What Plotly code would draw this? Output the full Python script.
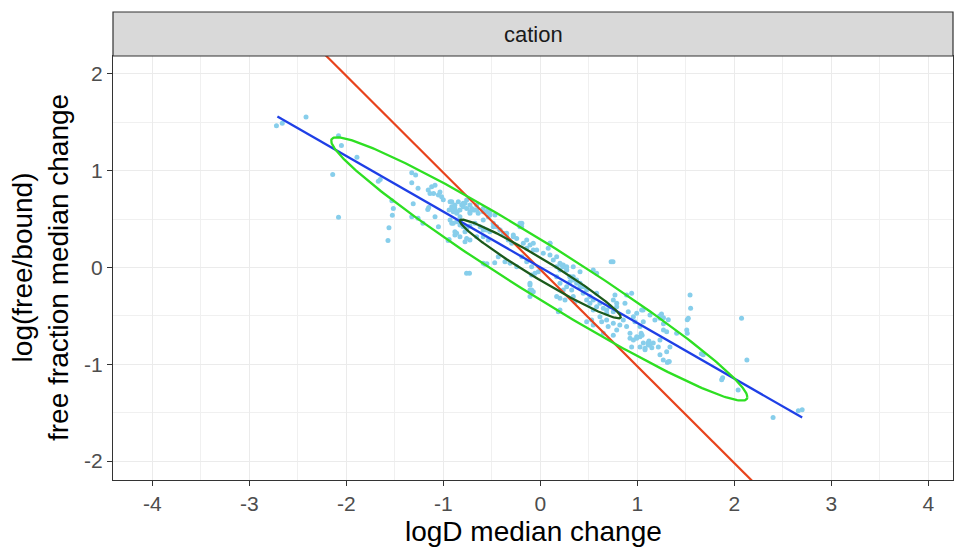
import numpy as np
import plotly.graph_objects as go

# ---------------- data ----------------
facet_label = "cation"
x_title = "logD median change"
y_title = "log(free/bound)<br>free fraction median change"
x_ticks = [-4, -3, -2, -1, 0, 1, 2, 3, 4]
y_ticks = [-2, -1, 0, 1, 2]

pts_x = [
    -2.72, -2.66, -2.415, -2.08, -2.05, -1.89, -2.14, -2.08, -1.67, -1.65,
    -1.53, -1.515, -1.525, -1.56, -1.57, -1.325, -1.285, -1.325, -1.26, -1.31,
    -1.16, -1.15, -1.085, -1.26, -1.325, -1.21, -1.05, -0.88, -0.95, -0.94,
    -0.76, -0.73, -0.57, -0.55, -0.47,
    -1.155, -1.12, -1.10, -1.137, -1.085, -1.034, -1.017, -1.0, -1.05, -0.93,
    -0.913, -0.94, -0.897, -0.88, -0.856, -0.828, -0.81, -0.776, -0.759, -0.725,
    -0.707, -0.673, -0.64, -0.588, -0.553, -0.536, -0.52, -0.467, -0.93, -0.913,
    -0.862, -0.828, -0.794, -0.759, -0.725, -0.673, -0.62, -0.588, -0.553, -0.52,
    -0.88, -0.828, -0.776, -0.725, -0.656, -0.588, -0.536,
    -0.588, -0.485, -0.45, -0.415, -0.38, -0.346, -0.33, -0.295, -0.278, -0.243,
    -0.21, -0.19, -0.175, -0.14, -0.106, -0.072, -0.433, -0.364, -0.312, -0.243,
    -0.19, -0.14, -0.089, -0.089, -0.055, -0.02, -0.106, -0.106, -0.106, -0.072,
    0.10, 0.082, 0.10, 0.134, 0.169, 0.203, 0.237, 0.272, 0.306, 0.169,
    0.203, 0.272, 0.324, 0.169, 0.203, 0.255, 0.34, 0.358,
    -0.913, -0.88, -0.845, -0.794, -0.759, -0.725, -0.69, -0.656, -0.588, -0.536,
    -0.52, -0.862, -0.776, -0.759, -0.897, -0.862, -0.828, -0.897,
    0.22, 0.272, 0.34, 0.41, 0.34, 0.375, 0.41, 0.443, 0.306, 0.237,
    0.546, 0.581, 0.478, 0.512, 0.546, 0.581, 0.615, 0.65, 0.684, 0.718,
    0.753, 0.77, 0.788, 0.89, 0.942, 0.873, 0.907, 0.96, 0.994, 0.976,
    1.028, 1.062, 1.045, 0.478, 0.53, 0.546, 0.633, 0.684, 0.70, 0.753,
    0.788, 0.82, 0.65, 0.753, 0.925, 0.96, 0.994, 1.028, 1.028, 1.062,
    1.08, 1.113, 1.165, 1.217, 1.234, 0.942, 1.08, 1.234, 1.268, 1.32,
    1.303, 1.131, 1.182, 1.234, 1.303, 1.406, 1.51, 1.526, 0.73, 0.75,
    1.544, 1.55, 1.515, 1.515, 1.32, 1.27, 1.27, 1.337, 1.31, 1.33,
    1.13, 1.11, 1.15, 1.12, 1.05, 1.04, 1.06, 1.23, 1.25, 1.27,
    1.66, 1.68, 2.075, 2.13, 1.88, 2.04, 1.87, 2.40, 2.66, 2.70,
    -0.897, -0.794, -0.725, -0.656, -0.588, -0.519, -0.485, -0.415, -0.346, -0.278,
    -0.209, -0.192, -0.14, -0.072, -0.037, 0.031, 0.10, 0.169, 0.203, 0.237,
    0.272, 0.306, 0.34, 0.375, 0.409, 0.443, 0.478, 0.512, 0.546, 0.581,
    0.615, 0.684, 0.753, 0.788, 0.856, 0.89, 0.925, 0.994, -0.588, -0.106,
    -0.089, 0.203, 0.186,
]
pts_y = [
    1.465, 1.49, 1.555, 1.36, 1.26, 1.14, 0.96, 0.52, 0.89, 0.91,
    0.69, 0.61, 0.54, 0.41, 0.28, 0.98, 0.955, 0.876, 0.82, 0.66,
    0.60, 0.62, 0.525, 0.51, 0.525, 0.456, 0.42, 0.37, 0.28, 0.29,
    -0.06, -0.06, 0.035, 0.04, 0.05,
    0.80, 0.835, 0.765, 0.765, 0.85, 0.78, 0.73, 0.70, 0.75, 0.68,
    0.628, 0.594, 0.576, 0.61, 0.576, 0.594, 0.646, 0.663, 0.61, 0.576,
    0.61, 0.594, 0.56, 0.576, 0.576, 0.594, 0.56, 0.542, 0.49, 0.456,
    0.473, 0.44, 0.42, 0.405, 0.43, 0.456, 0.42, 0.405, 0.387, 0.37,
    0.336, 0.318, 0.267, 0.284, 0.318, 0.318, 0.284,
    0.387, 0.456, 0.42, 0.387, 0.353, 0.318, 0.284, 0.25, 0.336, 0.30,
    0.42, 0.456, 0.25, 0.198, 0.232, 0.18, 0.11, 0.06, 0.043, 0.008,
    0.11, 0.06, 0.008, -0.077, -0.06, -0.043, -0.18, -0.232, -0.30, -0.25,
    0.25, 0.198, 0.13, 0.077, 0.008, -0.026, 0.026, -0.026, -0.095, -0.095,
    -0.163, -0.198, -0.232, -0.30, -0.318, -0.336, -0.30, -0.353,
    0.68, 0.646, 0.68, 0.628, 0.697, 0.646, 0.594, 0.646, 0.61, 0.525,
    0.576, 0.353, 0.37, 0.30, 0.594, 0.56, 0.525, 0.456,
    0.026, 0.008, 0.008, -0.043, -0.095, -0.13, -0.163, -0.198, -0.147, -0.232,
    -0.026, -0.06, -0.232, -0.30, -0.336, -0.267, -0.37, -0.42, -0.44, -0.405,
    -0.456, -0.284, -0.37, -0.284, -0.267, -0.37, -0.456, -0.508, -0.473, -0.56,
    -0.61, -0.56, -0.44, -0.56, -0.542, -0.594, -0.56, -0.542, -0.61, -0.576,
    -0.646, -0.594, -0.68, -0.70, -0.73, -0.75, -0.73, -0.715, -0.82, -0.78,
    -0.835, -0.80, -0.78, -0.82, -0.75, -0.82, -0.85, -0.90, -0.955, -0.973,
    -0.87, -0.49, -0.542, -0.525, -0.663, -0.68, -0.646, -0.525, 0.06, 0.06,
    -0.284, -0.42, -0.54, -0.68, -0.54, -0.58, -0.645, -0.82, -0.98, -0.97,
    -0.80, -0.78, -0.83, -0.76, -0.70, -0.68, -0.44, -0.50, -0.48, -0.52,
    -0.89, -0.90, -0.525, -0.955, -1.14, -1.265, -1.16, -1.55, -1.48, -1.47,
    0.628, 0.663, 0.56, 0.594, 0.49, 0.542, 0.42, 0.387, 0.353, 0.318,
    0.456, 0.42, 0.284, 0.25, 0.18, 0.147, 0.25, 0.112, 0.043, 0.008,
    -0.026, -0.095, -0.13, -0.163, -0.198, -0.267, -0.336, -0.37, -0.44, -0.405,
    -0.508, -0.473, -0.336, -0.405, -0.542, -0.61, -0.68, -0.715, 0.043, -0.163,
    -0.232, -0.44, -0.456,
]

# regression (blue) line end points
fit_x = [-2.71, 2.70]
fit_y = [1.56, -1.55]

# reference (red) line  y = slope * x + intercept
ref_slope = -1.0
ref_intercept = -0.02
ref_x = [-4.5, 4.5]

# ellipses: outer (bright green) and inner (dark green)
ell_cx = [-0.01, 0.0]
ell_cy = [-0.015, -0.015]
ell_ax = [2.145, 0.83]
ell_by = [1.36, 0.51]
ell_rho = [-0.973, -0.973]
ell_colors = ["#2EDF22", "#1B5A1B"]

# ---------------- figure ----------------
FONT = "Liberation Sans, Arial, Helvetica, sans-serif"
fig = go.Figure()

fig.add_trace(go.Scatter(
    x=pts_x, y=pts_y, mode="markers",
    marker=dict(color="#87CEEB", size=5, line=dict(width=0)),
    hoverinfo="skip"))

ref_y = [ref_slope * v + ref_intercept for v in ref_x]
fig.add_trace(go.Scatter(x=ref_x, y=ref_y, mode="lines",
                         line=dict(color="#E8431C", width=2.2), hoverinfo="skip"))

fig.add_trace(go.Scatter(x=fit_x, y=fit_y, mode="lines",
                         line=dict(color="#1E3FE6", width=2.3), hoverinfo="skip"))

t = np.linspace(0, 2 * np.pi, 300)
for cx, cy, a, b, rho, col in zip(ell_cx, ell_cy, ell_ax, ell_by, ell_rho, ell_colors):
    ex = cx + a * np.cos(t)
    ey = cy + b * (rho * np.cos(t) + np.sqrt(1 - rho ** 2) * np.sin(t))
    fig.add_trace(go.Scatter(x=ex, y=ey, mode="lines",
                             line=dict(color=col, width=2.3), hoverinfo="skip"))

axis_common = dict(
    ticks="outside", ticklen=5, tickwidth=1, tickcolor="#333333",
    tickfont=dict(family=FONT, size=21, color="#4D4D4D"),
    showgrid=True, gridcolor="#EBEBEB", gridwidth=1.1,
    zeroline=False, showline=True, mirror=True,
    linecolor="#333333", linewidth=1,
)

fig.update_xaxes(range=[-4.405, 4.255], tickvals=x_ticks,
                 ticktext=[str(v) for v in x_ticks],
                 minor=dict(dtick=0.5, tick0=0, showgrid=True, gridcolor="#F0F0F0", gridwidth=0.6),
                 **axis_common)
fig.update_yaxes(range=[-2.195, 2.185], tickvals=y_ticks,
                 ticktext=[str(v) for v in y_ticks],
                 minor=dict(dtick=0.5, tick0=0, showgrid=True, gridcolor="#F0F0F0", gridwidth=0.6),
                 **axis_common)

panel_h = 548 - 56 - 68
strip_h = 44
fig.add_shape(type="rect", xref="paper", yref="paper",
              x0=0, x1=1, y0=1, y1=1 + strip_h / panel_h,
              fillcolor="#D9D9D9", line=dict(color="#333333", width=1.2),
              layer="above")
fig.add_annotation(xref="paper", yref="paper", x=0.5, y=1 + strip_h / 2 / panel_h,
                   text=facet_label, showarrow=False, yanchor="middle",
                   font=dict(family=FONT, size=22, color="#1A1A1A"))

fig.add_annotation(xref="paper", yref="paper", x=0.5, y=-(531 - 480) / panel_h,
                   text=x_title, showarrow=False, yanchor="middle",
                   font=dict(family=FONT, size=28, color="#000000"))
fig.add_annotation(xref="paper", yref="paper", x=-(113 - 40) / 840, y=0.5,
                   text=y_title, showarrow=False, textangle=-90,
                   xanchor="center", yanchor="middle",
                   font=dict(family=FONT, size=28, color="#000000"))

fig.update_layout(
    width=954, height=548,
    margin=dict(l=113, r=1, t=56, b=68),
    plot_bgcolor="white", paper_bgcolor="white",
    showlegend=False,
)

fig.write_html("out.html")
